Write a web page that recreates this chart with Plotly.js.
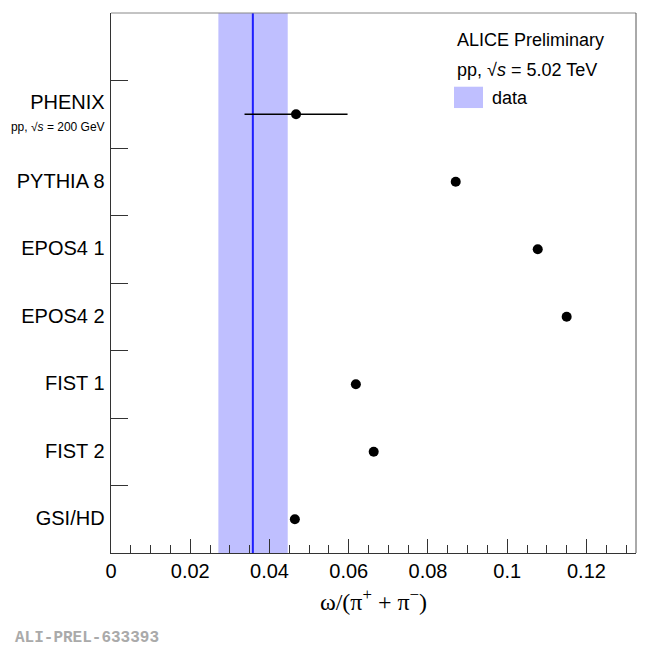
<!DOCTYPE html>
<html>
<head>
<meta charset="utf-8">
<script src="https://cdn.plot.ly/plotly-3.0.1.min.js"></script>
<style>
  html, body { margin: 0; padding: 0; background: #fff; }
  #chart { width: 650px; height: 650px; }
</style>
</head>
<body>
<div id="chart"></div>
<script>
// models, top to bottom
let models = ["PHENIX", "PYTHIA 8", "EPOS4 1", "EPOS4 2", "FIST 1", "FIST 2", "GSI/HD"];
let modelNotes = ["pp, √<i>s</i> = 200 GeV", "", "", "", "", "", ""];
let ratios = [0.0467, 0.087, 0.1077, 0.115, 0.0618, 0.0663, 0.0464];
let ratioErrors = [0.013, 0, 0, 0, 0, 0, 0];

// measured value with its uncertainty band
let dataValue = [0.0358];
let dataLow = [0.0271];
let dataHigh = [0.0446];

let xTicks = [0, 0.02, 0.04, 0.06, 0.08, 0.1, 0.12];
let xTickLabels = ["0", "0.02", "0.04", "0.06", "0.08", "0.1", "0.12"];

// row positions: top row highest, one empty row above for the legend
let rowPos = models.map((m, i) => models.length - 1 - i);
let rowEdges = rowPos.map(p => p + 0.5);
let yRange = [-0.5, models.length + 0.5];

// big model name, small note underneath (line spacing follows the small tickfont)
let rowLabels = models.map((m, i) => {
    let label = "<span style='font-size:20px'>" + m + "</span>";
    if (modelNotes[i]) label += "<br><span style='font-size:12px'>" + modelNotes[i] + "</span>";
    return label;
});

// band spans the full height of the frame
let bandTrace = {
    type: "scatter",
    mode: "none",
    x: [dataLow[0], dataHigh[0], dataHigh[0], dataLow[0], dataLow[0]],
    y: [yRange[0], yRange[0], yRange[1], yRange[1], yRange[0]],
    fill: "toself",
    fillcolor: "rgb(191,191,255)",
    hoverinfo: "skip"
};

let lineTrace = {
    type: "scatter",
    mode: "lines",
    x: [dataValue[0], dataValue[0]],
    y: yRange,
    line: { color: "rgb(30,30,255)", width: 2 },
    hoverinfo: "skip"
};

// markers sit on the overlay axis (same range) so they draw on top
let modelTrace = {
    type: "scatter",
    mode: "markers",
    x: ratios,
    y: rowPos,
    yaxis: "y2",
    marker: { color: "black", size: 10 },
    error_x: { type: "data", array: ratioErrors, width: 0, thickness: 1.5, color: "black" }
};

let layout = {
    width: 650,
    height: 650,
    margin: { l: 111, r: 14, t: 13, b: 97 },
    paper_bgcolor: "white",
    plot_bgcolor: "white",
    font: { family: "Liberation Sans, Arial, sans-serif", color: "black" },
    showlegend: false,
    xaxis: {
        range: [0, 0.1325],
        tickmode: "array",
        tickvals: xTicks,
        ticktext: xTickLabels,
        ticks: "inside",
        ticklen: 14,
        tickcolor: "#333",
        minor: { dtick: 0.005, ticks: "inside", ticklen: 8, tickcolor: "#333" },
        showgrid: false,
        zeroline: false,
        showline: true,
        linecolor: "#333",
        tickfont: { size: 20 },
        title: {
            text: "ω/(π<sup>+</sup> + π<sup>−</sup>)",
            font: { family: "Liberation Serif, Times New Roman, serif", size: 24 },
            standoff: 12
        }
    },
    yaxis: {
        range: yRange,
        tickmode: "array",
        tickvals: rowPos,
        ticktext: rowLabels,
        ticks: "",
        ticklabelstandoff: 2,
        showgrid: false,
        zeroline: false,
        showline: true,
        linecolor: "#333",
        tickfont: { size: 17 }
    },
    // boundary ticks between the rows
    yaxis2: {
        overlaying: "y",
        side: "left",
        range: yRange,
        tickmode: "array",
        tickvals: rowEdges,
        ticks: "inside",
        ticklen: 17,
        tickcolor: "#333",
        showticklabels: false,
        showgrid: false,
        zeroline: false,
        showline: false
    },
    shapes: [
        // top and right frame
        { type: "line", xref: "paper", yref: "paper", x0: 0, x1: 1, y0: 1, y1: 1, line: { color: "#888", width: 1 } },
        { type: "line", xref: "paper", yref: "paper", x0: 1, x1: 1, y0: 0, y1: 1, line: { color: "#555", width: 1 } },
        // legend key
        { type: "rect", xref: "paper", yref: "paper", x0: 0.6533, x1: 0.7086, y0: 0.824, y1: 0.8635,
          fillcolor: "rgb(191,191,255)", line: { width: 0 } }
    ],
    annotations: [
        { xref: "paper", yref: "paper", x: 0.655, y: 0.95, xanchor: "left", yanchor: "middle",
          text: "ALICE Preliminary", showarrow: false, font: { size: 18 } },
        { xref: "paper", yref: "paper", x: 0.655, y: 0.895, xanchor: "left", yanchor: "middle",
          text: "pp, √<i>s</i> = 5.02 TeV", showarrow: false, font: { size: 18 } },
        { xref: "paper", yref: "paper", x: 0.722, y: 0.8426, xanchor: "left", yanchor: "middle",
          text: "data", showarrow: false, font: { size: 18 } },
        { xref: "paper", yref: "paper", x: -0.1867, y: -0.158, xanchor: "left", yanchor: "middle",
          text: "<b>ALI-PREL-633393</b>", showarrow: false,
          font: { family: "Liberation Mono, Courier New, monospace", size: 16, color: "#aaa" } }
    ]
};

Plotly.newPlot("chart", [bandTrace, lineTrace, modelTrace], layout, { staticPlot: true });
</script>
</body>
</html>
